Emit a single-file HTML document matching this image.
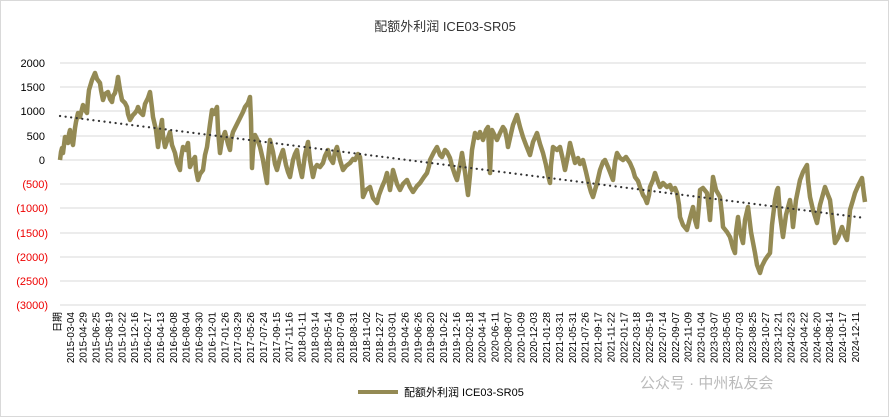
<!DOCTYPE html>
<html><head><meta charset="utf-8"><style>
body{margin:0;background:#fff}
svg{display:block}
text{font-family:"Liberation Sans","Noto Sans CJK SC",sans-serif}
</style></head><body>
<svg width="889" height="417" viewBox="0 0 889 417" xmlns="http://www.w3.org/2000/svg">
<rect x="0.5" y="0.5" width="888" height="416" fill="#fff" stroke="#d9d9d9"/>
<text x="445" y="31" font-size="13" text-anchor="middle" fill="#333">配额外利润 ICE03-SR05</text>
<g stroke="#d9d9d9" stroke-width="1">
<line x1="60" x2="866" y1="63" y2="63"/><line x1="60" x2="866" y1="87" y2="87"/>
<line x1="60" x2="866" y1="111" y2="111"/><line x1="60" x2="866" y1="136" y2="136"/>
<line x1="60" x2="866" y1="160" y2="160"/><line x1="60" x2="866" y1="184" y2="184"/>
<line x1="60" x2="866" y1="208" y2="208"/><line x1="60" x2="866" y1="233" y2="233"/>
<line x1="60" x2="866" y1="257" y2="257"/><line x1="60" x2="866" y1="281" y2="281"/>
<line x1="60" x2="866" y1="305" y2="305"/>
</g>
<g font-size="11" text-anchor="end">
<text x="45" y="67" fill="#000">2000</text><text x="45" y="91" fill="#000">1500</text>
<text x="45" y="115" fill="#000">1000</text><text x="45" y="140" fill="#000">500</text>
<text x="45" y="164" fill="#000">0</text>
<text x="48" y="188" fill="#e00">(500)</text><text x="48" y="212" fill="#e00">(1000)</text>
<text x="48" y="237" fill="#e00">(1500)</text><text x="48" y="261" fill="#e00">(2000)</text>
<text x="48" y="285" fill="#e00">(2500)</text><text x="48" y="309" fill="#e00">(3000)</text>
</g>
<polyline fill="none" stroke="#948a54" stroke-width="4.5" stroke-linejoin="round" points="60,160 61,152 62,148 63,153 65,137 66,141 68,143 69,134 70,130 71,138 73,145 75,128 76,122 78,113 80,117 83,105 85,110 87,113 88,99 89,90 92,80 95,73 97,79 100,83 101,90 103,100 105,94 108,92 110,99 112,102 113,96 115,93 117,84 118,77 120,90 122,100 125,103 127,107 128,114 130,120 133,115 135,113 137,110 138,107 140,112 143,115 145,104 148,98 150,92 152,108 153,117 156,130 158,147 160,131 162,120 163,136 165,147 168,138 170,132 172,145 175,153 177,163 180,170 181,158 183,147 186,150 188,143 189,156 190,167 193,160 195,157 196,170 198,180 200,174 203,170 205,155 207,147 210,124 212,110 214,114 217,107 218,130 220,153 222,140 225,132 228,144 230,150 231,140 233,132 236,126 238,122 240,118 243,112 245,107 248,103 250,97 251,120 252,168 253,150 255,135 258,141 260,147 263,160 265,172 267,183 268,160 270,140 273,152 275,164 277,170 280,158 283,150 286,165 288,172 290,177 293,160 295,154 297,150 299,164 302,177 305,155 308,142 310,160 313,177 315,168 317,165 320,167 323,163 325,156 328,150 330,158 333,163 335,152 337,147 340,160 343,170 346,166 350,163 353,159 355,160 358,154 360,157 362,180 363,197 366,190 370,187 373,198 377,203 379,195 382,187 385,180 387,173 389,184 390,190 392,178 393,170 397,184 400,190 403,184 407,180 410,187 413,192 417,186 420,183 424,177 427,173 429,166 430,160 434,152 437,147 440,155 442,157 445,150 447,152 450,158 452,166 455,175 457,180 460,165 462,153 465,172 468,195 470,175 472,150 475,133 478,138 480,132 483,140 486,130 488,127 489,150 490,173 491,150 492,130 495,136 497,140 500,133 503,127 505,130 507,140 508,147 510,138 513,125 515,120 517,115 520,127 523,137 526,145 528,150 530,155 533,142 537,133 540,144 543,153 546,165 548,175 550,183 551,165 553,147 557,150 560,147 563,160 565,170 568,155 570,143 573,155 575,163 578,158 580,164 583,160 586,172 589,185 591,192 593,197 595,190 597,183 600,170 603,162 605,160 608,167 610,172 613,180 615,162 617,153 620,158 623,160 626,157 630,163 633,170 635,177 638,181 640,187 643,195 645,198 647,203 649,195 650,187 653,180 655,173 658,182 660,187 663,183 667,187 670,185 672,190 675,188 677,193 679,205 680,217 683,225 687,230 690,218 693,207 695,220 697,227 699,205 700,190 703,188 707,193 709,210 710,220 712,190 713,177 716,190 720,197 722,215 723,227 727,232 730,237 733,248 735,253 736,232 738,217 740,232 743,243 745,220 748,207 751,232 755,253 757,265 760,273 762,266 765,260 767,257 770,253 772,225 775,200 777,190 778,188 780,215 783,237 786,215 790,200 792,215 793,227 796,200 800,180 803,172 807,165 808,180 810,197 813,210 817,223 820,205 825,187 828,195 830,200 833,225 835,243 838,238 842,227 845,236 847,240 849,222 850,210 853,200 855,193 858,186 862,178 864,195 865,202"/>
<line x1="60" y1="116" x2="865" y2="218" stroke="#333" stroke-width="2.2" stroke-dasharray="0.1 5.5" stroke-linecap="round"/>
<g font-size="10" fill="#000" text-anchor="end">
<text transform="translate(61,312) rotate(-90)">日期</text>
<text transform="translate(73.9,312) rotate(-90)">2015-03-04</text>
<text transform="translate(86.7,312) rotate(-90)">2015-04-29</text>
<text transform="translate(99.6,312) rotate(-90)">2015-06-25</text>
<text transform="translate(112.5,312) rotate(-90)">2015-08-19</text>
<text transform="translate(125.4,312) rotate(-90)">2015-10-22</text>
<text transform="translate(138.2,312) rotate(-90)">2015-12-16</text>
<text transform="translate(151.1,312) rotate(-90)">2016-02-17</text>
<text transform="translate(164,312) rotate(-90)">2016-04-13</text>
<text transform="translate(176.8,312) rotate(-90)">2016-06-08</text>
<text transform="translate(189.7,312) rotate(-90)">2016-08-04</text>
<text transform="translate(202.6,312) rotate(-90)">2016-09-30</text>
<text transform="translate(215.4,312) rotate(-90)">2016-12-01</text>
<text transform="translate(228.3,312) rotate(-90)">2017-01-26</text>
<text transform="translate(241.2,312) rotate(-90)">2017-03-29</text>
<text transform="translate(254.1,312) rotate(-90)">2017-05-26</text>
<text transform="translate(266.9,312) rotate(-90)">2017-07-24</text>
<text transform="translate(279.8,312) rotate(-90)">2017-09-15</text>
<text transform="translate(292.7,312) rotate(-90)">2017-11-16</text>
<text transform="translate(305.5,312) rotate(-90)">2018-01-11</text>
<text transform="translate(318.4,312) rotate(-90)">2018-03-14</text>
<text transform="translate(331.3,312) rotate(-90)">2018-05-14</text>
<text transform="translate(344.1,312) rotate(-90)">2018-07-09</text>
<text transform="translate(357,312) rotate(-90)">2018-08-31</text>
<text transform="translate(369.9,312) rotate(-90)">2018-11-02</text>
<text transform="translate(382.8,312) rotate(-90)">2018-12-27</text>
<text transform="translate(395.6,312) rotate(-90)">2019-03-01</text>
<text transform="translate(408.5,312) rotate(-90)">2019-04-26</text>
<text transform="translate(421.4,312) rotate(-90)">2019-06-26</text>
<text transform="translate(434.2,312) rotate(-90)">2019-08-20</text>
<text transform="translate(447.1,312) rotate(-90)">2019-10-22</text>
<text transform="translate(460,312) rotate(-90)">2019-12-16</text>
<text transform="translate(472.8,312) rotate(-90)">2020-02-18</text>
<text transform="translate(485.7,312) rotate(-90)">2020-04-14</text>
<text transform="translate(498.6,312) rotate(-90)">2020-06-11</text>
<text transform="translate(511.5,312) rotate(-90)">2020-08-07</text>
<text transform="translate(524.3,312) rotate(-90)">2020-10-09</text>
<text transform="translate(537.2,312) rotate(-90)">2020-12-03</text>
<text transform="translate(550.1,312) rotate(-90)">2021-01-28</text>
<text transform="translate(562.9,312) rotate(-90)">2021-03-31</text>
<text transform="translate(575.8,312) rotate(-90)">2021-05-31</text>
<text transform="translate(588.7,312) rotate(-90)">2021-07-26</text>
<text transform="translate(601.5,312) rotate(-90)">2021-09-17</text>
<text transform="translate(614.4,312) rotate(-90)">2021-11-22</text>
<text transform="translate(627.3,312) rotate(-90)">2022-01-17</text>
<text transform="translate(640.2,312) rotate(-90)">2022-03-18</text>
<text transform="translate(653,312) rotate(-90)">2022-05-19</text>
<text transform="translate(665.9,312) rotate(-90)">2022-07-14</text>
<text transform="translate(678.8,312) rotate(-90)">2022-09-07</text>
<text transform="translate(691.6,312) rotate(-90)">2022-11-09</text>
<text transform="translate(704.5,312) rotate(-90)">2023-01-04</text>
<text transform="translate(717.4,312) rotate(-90)">2023-03-07</text>
<text transform="translate(730.2,312) rotate(-90)">2023-05-05</text>
<text transform="translate(743.1,312) rotate(-90)">2023-07-03</text>
<text transform="translate(756,312) rotate(-90)">2023-08-25</text>
<text transform="translate(768.9,312) rotate(-90)">2023-10-27</text>
<text transform="translate(781.7,312) rotate(-90)">2023-12-21</text>
<text transform="translate(794.6,312) rotate(-90)">2024-02-23</text>
<text transform="translate(807.5,312) rotate(-90)">2024-04-22</text>
<text transform="translate(820.3,312) rotate(-90)">2024-06-20</text>
<text transform="translate(833.2,312) rotate(-90)">2024-08-14</text>
<text transform="translate(846.1,312) rotate(-90)">2024-10-17</text>
<text transform="translate(858.9,312) rotate(-90)">2024-12-11</text>
</g>
<g stroke="#948a54" stroke-width="4"><line x1="358" y1="392" x2="398" y2="392"/></g>
<text x="404" y="396" font-size="11" fill="#000">配额外利润 ICE03-SR05</text>
<text x="640" y="388" font-size="15" fill="#bbb">公众号 · 中州私友会</text>
</svg>
</body></html>
